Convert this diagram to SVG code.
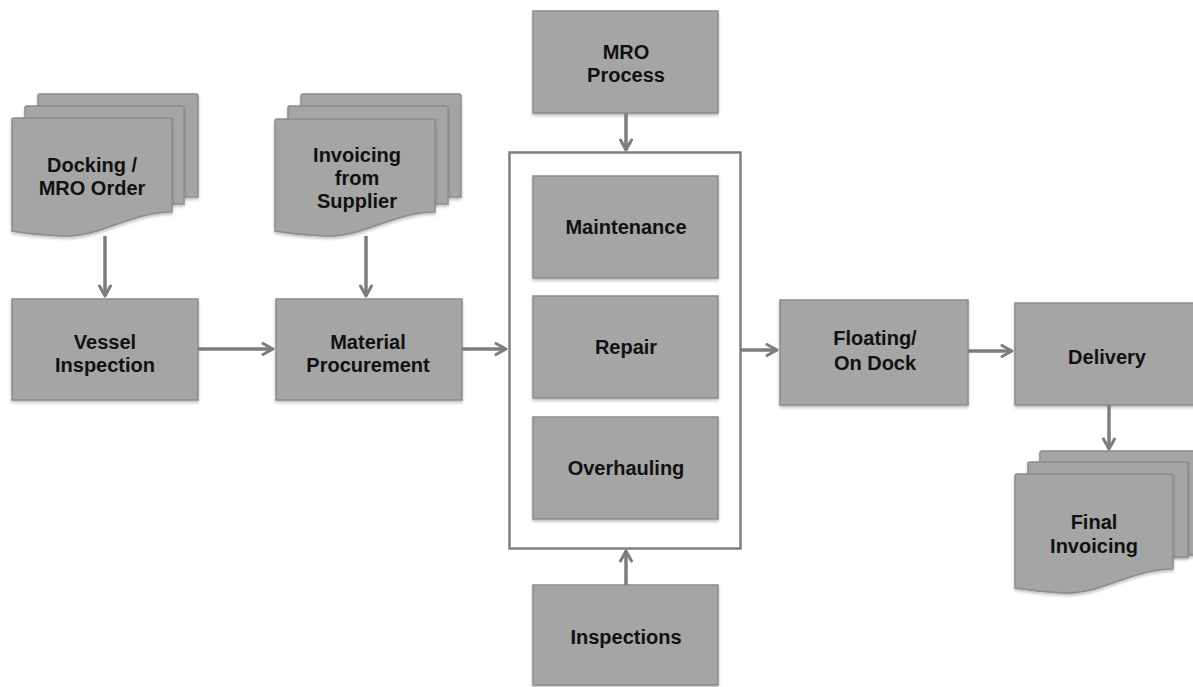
<svg xmlns="http://www.w3.org/2000/svg" width="1193" height="687" viewBox="0 0 1193 687">
<defs>
<filter id="sh" x="-10%" y="-10%" width="120%" height="125%">
<feDropShadow dx="0" dy="2" stdDeviation="1.5" flood-color="#000" flood-opacity="0.25"/>
</filter>
<marker id="ah" viewBox="0 0 14 14" refX="12" refY="7" markerWidth="14" markerHeight="14" markerUnits="userSpaceOnUse" orient="auto">
<path d="M2,1.5 L12,7 L2,12.5" fill="none" stroke="#7d7d7d" stroke-width="3" stroke-linecap="round" stroke-linejoin="round"/>
</marker>
</defs>
<style>
.b{fill:#a5a5a5;stroke:#8c8c8c;stroke-width:1.5;filter:url(#sh)}
.t{font-family:"Liberation Sans",Arial,sans-serif;font-weight:bold;font-size:20px;fill:#111111;text-anchor:middle}
.c line{stroke:#7d7d7d;stroke-width:3.5;marker-end:url(#ah)}
</style>
<rect width="1193" height="687" fill="#ffffff"/>

<g id="docking-order">
<path class="b" d="M38,96 Q38,94 40,94 H196 Q198,94 198,96 V197 H38 Z"/>
<path class="b" d="M25,108 Q25,106 27,106 H182 Q184,106 184,108 V204 H25 Z"/>
<path class="b" d="M12,120 Q12,118 14,118 H170 Q172,118 172,120 V212 C130,212 100,238 62,236 C40,235 24,233 12,231 Z"/>
<text class="t" x="92" y="172">Docking /</text>
<text class="t" x="92" y="195">MRO Order</text>
</g>

<g id="invoicing-supplier">
<path class="b" d="M301,96 Q301,94 303,94 H459 Q461,94 461,96 V197 H301 Z"/>
<path class="b" d="M288,108 Q288,106 290,106 H446 Q448,106 448,108 V204 H288 Z"/>
<path class="b" d="M275,121 Q275,119 277,119 H433 Q435,119 435,121 V212 C393,212 363,238 325,236 C303,235 287,233 275,231 Z"/>
<text class="t" x="357" y="162">Invoicing</text>
<text class="t" x="357" y="185">from</text>
<text class="t" x="357" y="208">Supplier</text>
</g>

<g id="vessel-inspection">
<rect class="b" x="12" y="299" width="186" height="101"/>
<text class="t" x="105" y="349">Vessel</text>
<text class="t" x="105" y="372">Inspection</text>
</g>

<g id="material-procurement">
<rect class="b" x="276" y="299" width="186" height="101"/>
<text class="t" x="368" y="349">Material</text>
<text class="t" x="368" y="372">Procurement</text>
</g>

<g id="mro-process">
<rect class="b" x="533" y="11" width="185" height="102"/>
<text class="t" x="626" y="59">MRO</text>
<text class="t" x="626" y="82">Process</text>
</g>

<g id="mro-container">
<rect x="509.5" y="152.5" width="231" height="396" fill="#ffffff" stroke="#7f7f7f" stroke-width="2.5"/>
</g>

<g id="maintenance">
<rect class="b" x="533" y="176" width="185" height="102"/>
<text class="t" x="626" y="234">Maintenance</text>
</g>

<g id="repair">
<rect class="b" x="533" y="296" width="185" height="102"/>
<text class="t" x="626" y="354">Repair</text>
</g>

<g id="overhauling">
<rect class="b" x="533" y="417" width="185" height="102"/>
<text class="t" x="626" y="475">Overhauling</text>
</g>

<g id="inspections">
<rect class="b" x="533" y="585" width="185" height="100"/>
<text class="t" x="626" y="644">Inspections</text>
</g>

<g id="floating-on-dock">
<rect class="b" x="780" y="300" width="188" height="105"/>
<text class="t" x="875" y="345">Floating/</text>
<text class="t" x="875" y="370">On Dock</text>
</g>

<g id="delivery">
<rect class="b" x="1015" y="303" width="190" height="102"/>
<text class="t" x="1107" y="364">Delivery</text>
</g>

<g id="final-invoicing">
<path class="b" d="M1040,453 Q1040,451 1042,451 H1200 V555 H1040 Z"/>
<path class="b" d="M1028,464 Q1028,462 1030,462 H1186 Q1188,462 1188,464 V557 H1028 Z"/>
<path class="b" d="M1015,476 Q1015,474 1017,474 H1171 Q1173,474 1173,476 V569 C1131,569 1101,595 1063,593 C1041,592 1027,590 1015,588 Z"/>
<text class="t" x="1094" y="529">Final</text>
<text class="t" x="1094" y="553">Invoicing</text>
</g>

<g id="connectors" class="c">
<line x1="105" y1="236" x2="105" y2="296"/>
<line x1="366" y1="236" x2="366" y2="296"/>
<line x1="198" y1="349" x2="273" y2="349"/>
<line x1="462" y1="349" x2="506" y2="349"/>
<line x1="626" y1="113" x2="626" y2="150"/>
<line x1="626" y1="585" x2="626" y2="551"/>
<line x1="741" y1="350" x2="777" y2="350"/>
<line x1="968" y1="351" x2="1012" y2="351"/>
<line x1="1109" y1="405" x2="1109" y2="449"/>
</g>
</svg>
